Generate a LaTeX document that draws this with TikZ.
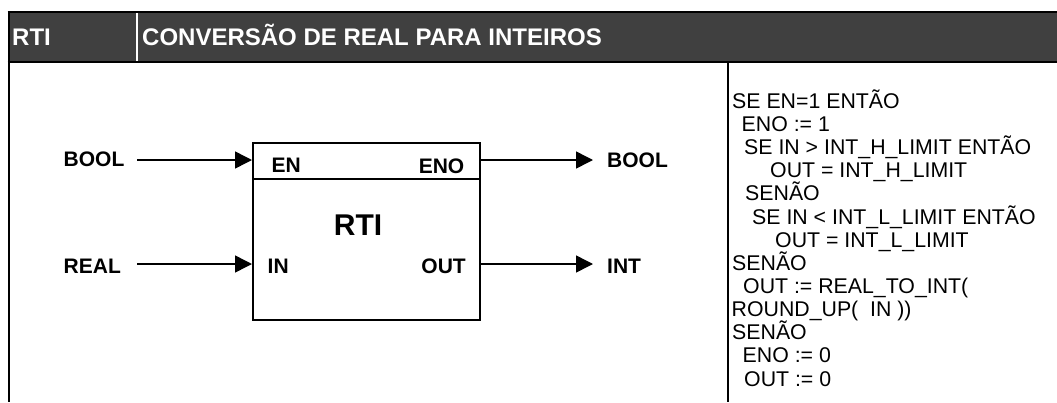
\documentclass[tikz,border=0pt]{standalone}
\usepackage{fontspec}
\setmainfont{Liberation Sans}
\usetikzlibrary{arrows.meta}
\definecolor{hdrgray}{HTML}{404040}
\tikzset{
  hdrtext/.style={anchor=base west, inner sep=0pt, text=white, font=\fontsize{24}{28}\selectfont\bfseries},
  lbl/.style={inner sep=0pt, font=\fontsize{21}{24}\selectfont\bfseries},
  code/.style={anchor=base west, inner sep=0pt, font=\fontsize{21.3}{23}\selectfont},
  arr/.style={line width=1.5pt, -{Triangle[length=17pt,width=17pt]}},
  frame/.style={line width=2pt, black}
}
\begin{document}
\begin{tikzpicture}[x=1pt,y=-1pt]
\useasboundingbox (0,0) rectangle (1057,402);
% header
\fill[hdrgray] (8,12) rectangle (1057,62);
\draw[frame] (7.5,12) -- (1057,12);
\draw[line width=2.5pt] (7.5,62) -- (1057,62);
\draw[white, line width=1.5pt] (137,13) -- (137,61);
\draw[frame] (8.5,11) -- (8.5,402);
\draw[frame] (728,62) -- (728,402);
\node[hdrtext] (h1) at (12,45) {RTI};
\node[hdrtext] (h2) at (142,45) {CONVERSÃO DE REAL PARA INTEIROS};
% block
\node[draw, line width=2pt, minimum width=227pt, minimum height=177pt, inner sep=0pt] (rti) at (366.5,231.5) {};
\draw[line width=2pt] (rti.west |- 0,179) -- (rti.east |- 0,179);
\node[lbl, anchor=base, font=\fontsize{30}{34}\selectfont\bfseries] (name) at (358,235) {RTI};
\node[lbl, anchor=base west] (en) at (271.5,172) {EN};
\node[lbl, anchor=base west] (in) at (267.5,273) {IN};
\node[lbl, anchor=base east] (eno) at (464.5,173) {ENO};
\node[lbl, anchor=base east] (out) at (466,273) {OUT};
% signals
\node[lbl, anchor=base west] (boolin) at (63.5,166) {BOOL};
\node[lbl, anchor=base west] (realin) at (63.5,273) {REAL};
\node[lbl, anchor=base west] (boolout) at (607,167) {BOOL};
\node[lbl, anchor=base west] (intout) at (607,273) {INT};
\coordinate (enS) at (137,160);
\coordinate (inS) at (137,264);
\coordinate (enoE) at (593,160);
\coordinate (outE) at (593,264);
\draw[arr] (enS) -- (rti.west |- enS);
\draw[arr] (inS) -- (rti.west |- inS);
\draw[arr] (rti.east |- enoE) -- (enoE);
\draw[arr] (rti.east |- outE) -- (outE);
% code
\node[code] (c1) at (732,108.3) {SE EN=1 ENTÃO};
\node[code] (c2) at (741.5,131.45) {ENO := 1};
\node[code] (c3) at (744,154.6) {SE IN > INT\_H\_LIMIT ENTÃO};
\node[code] (c4) at (770,177.75) {OUT = INT\_H\_LIMIT};
\node[code] (c5) at (745,200.9) {SENÃO};
\node[code] (c6) at (752,224.05) {SE IN < INT\_L\_LIMIT ENTÃO};
\node[code] (c7) at (775,247.2) {OUT = INT\_L\_LIMIT};
\node[code] (c8) at (732,270.35) {SENÃO};
\node[code] (c9) at (743,293.5) {OUT := REAL\_TO\_INT(};
\node[code] (c10) at (731.5,316.65) {ROUND\_UP(\ \ IN ))};
\node[code] (c11) at (732,339.8) {SENÃO};
\node[code] (c12) at (742.5,362.95) {ENO := 0};
\node[code] (c13) at (744,386.1) {OUT := 0};
\end{tikzpicture}
\end{document}
